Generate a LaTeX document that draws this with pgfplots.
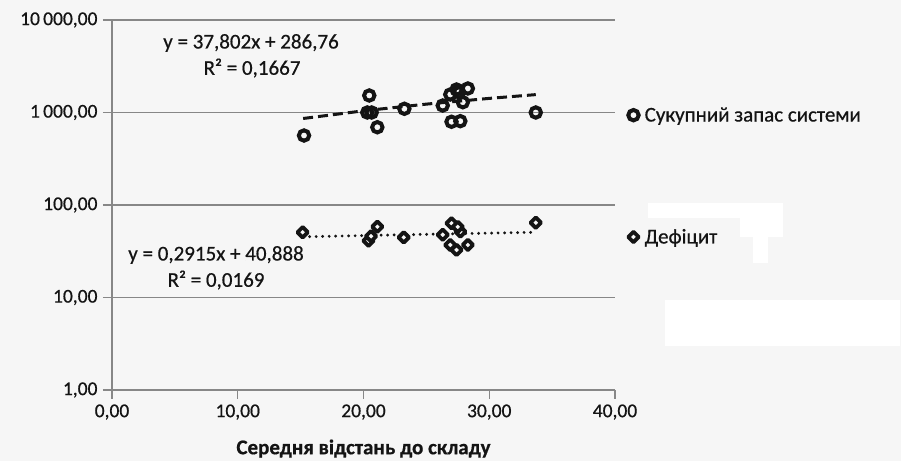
\documentclass[border=0pt]{standalone}
\usepackage{fontspec}
\setmainfont{Carlito}[FakeBold=0.6]
\usepackage{pgfplots}
\pgfplotsset{compat=1.18}
\definecolor{bg}{RGB}{246,246,246}
\definecolor{gridc}{RGB}{135,135,135}
\definecolor{txt}{RGB}{20,20,20}
\pgfplotsset{markleg/.style={legend image code/.code={\draw[##1] plot coordinates {(0bp,0bp)};}}}
\begin{document}
\begin{tikzpicture}[font=\fontsize{21bp}{24bp}\selectfont]
\fill[bg] (-112bp,-71bp) rectangle (789bp,390bp);
\begin{axis}[
  at={(0,0)}, anchor=south west,
  scale only axis, width=503bp, height=370bp,
  ymode=log, xmin=0, xmax=40, ymin=1, ymax=10000,
  xtick={0,10,20,30,40},
  xticklabels={{0,00},{10,00},{20,00},{30,00},{40,00}},
  ytick={1,10,100,1000,10000},
  yticklabels={{1,00},{10,00},{100,00},{1\,000,00},{10\,000,00}},
  yminorticks=false,
  axis x line=bottom, axis y line=left,
  axis line style={-, gridc, line width=1.5bp},
  ymajorgrids, grid style={gridc, line width=1.5bp},
  tick style={gridc, line width=1.5bp},
  major tick length=9bp, tick align=outside,
  ticklabel style={font=\fontsize{19.5bp}{22bp}\selectfont},
  xticklabel style={txt, yshift=-2bp},
  yticklabel style={txt, xshift=-2bp},
  xlabel={\bfseries Середня відстань до складу},
  xlabel style={txt, yshift=-13bp, font=\fontsize{21bp}{24bp}\selectfont},
  clip=false,
  legend style={at={(1.02,0.578)}, anchor=west, draw=none, fill=none,
    row sep=102bp, font=\fontsize{21bp}{24bp}\selectfont, text=txt,
    /tikz/every odd column/.style={column sep=4bp}},
  legend cell align=left,
]
\addplot[only marks, mark=o, color=txt, markleg,
  mark options={line width=4bp, mark size=5.2bp}]
  coordinates {
  (15.27,564) (20.46,1527) (20.3,1000) (20.65,1000) (21.1,693)
  (23.25,1097) (26.3,1190) (26.9,1566) (27.0,794) (27.7,806)
  (27.4,1773) (28.3,1818) (27.9,1292) (27.6,1650) (33.7,1000)
};
\addlegendentry{Сукупний запас системи}
\addplot[only marks, mark=square*, color=txt, markleg,
  mark options={rotate=45, line width=3.8bp, line join=round, mark size=3.7bp, fill=bg}]
  coordinates {
  (15.16,50.7) (21.1,58.2) (20.4,41.1) (20.6,46) (23.2,44.7)
  (26.3,47.7) (27.0,63.4) (27.7,51.5) (26.9,37) (27.4,32.7)
  (28.3,37) (27.5,58) (33.7,64.4)
};
\addlegendentry{Дефіцит}
\addplot[forget plot, txt, line width=3bp, dash pattern=on 10bp off 5bp]
  coordinates {(15.2,861.4) (20,1042.8) (25,1231.8) (30,1420.8) (33.7,1560.6)};
\addplot[forget plot, txt, line width=3.2bp, line cap=round, dash pattern=on 0bp off 6.5bp]
  coordinates {(15.2,45.32) (20,46.72) (25,48.18) (30,49.63) (33.7,50.71)};
\end{axis}
\node[txt] at (139bp,347bp) {y = 37,802x + 286,76};
\node[txt] at (140bp,322bp) {R² = 0,1667};
\node[txt] at (104bp,135bp) {y = 0,2915x + 40,888};
\node[txt] at (104bp,110bp) {R² = 0,0169};
\fill[white] (536bp,187bp) rectangle (671bp,172bp);
\fill[white] (628bp,172bp) rectangle (671bp,153bp);
\fill[white] (641bp,153bp) rectangle (656bp,127bp);
\fill[white] (553bp,90bp) rectangle (788bp,44bp);
\end{tikzpicture}
\end{document}
